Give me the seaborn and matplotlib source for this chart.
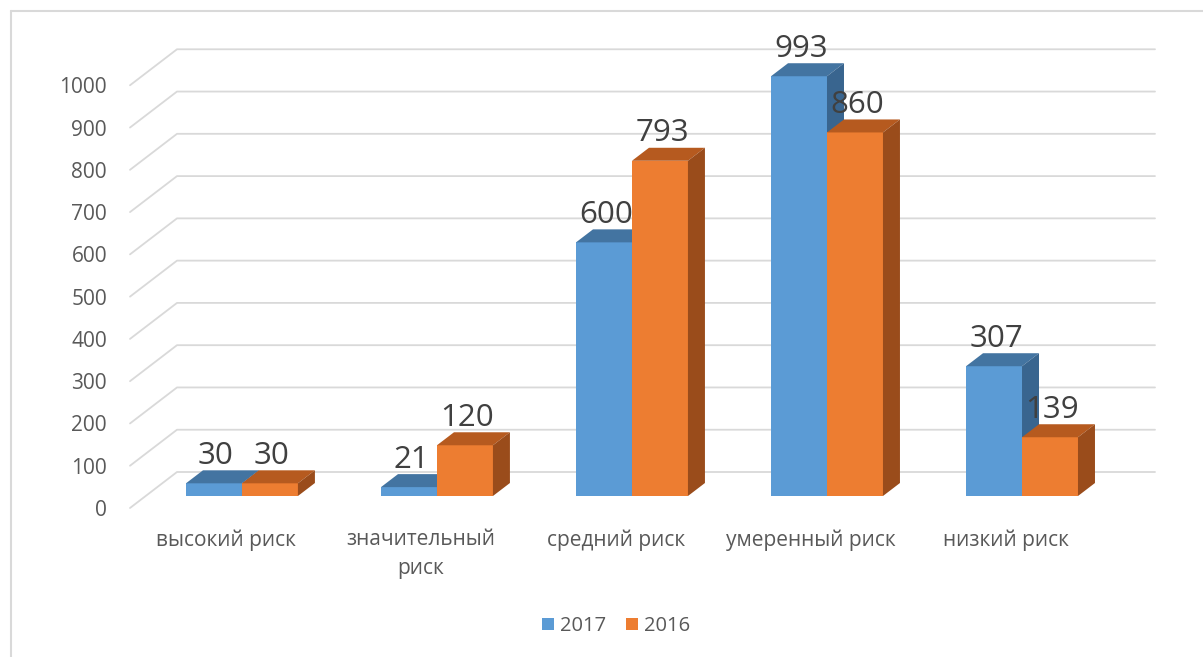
import numpy as np
import pandas as pd
import matplotlib
matplotlib.use("Agg")
import matplotlib.pyplot as plt
import seaborn as sns
from matplotlib.patches import Polygon, Patch
from matplotlib.lines import Line2D
from matplotlib.transforms import ScaledTranslation

# ---- data ----
categories = ["высокий риск", "значительный\nриск", "средний риск", "умеренный риск", "низкий риск"]
series_names = ["2017", "2016"]
values_2017 = [30, 21, 600, 993, 307]
values_2016 = [30, 120, 793, 860, 139]
y_ticks = [0, 100, 200, 300, 400, 500, 600, 700, 800, 900, 1000]

# ---- style ----
front_colors = {"2017": "#5B9BD5", "2016": "#ED7D31"}
top_colors = {"2017": "#4374A1", "2016": "#B65A1F"}
side_colors = {"2017": "#39658F", "2016": "#9A4C1B"}
text_color = "#595959"
grid_color = "#D9D9D9"
FONT = ["Open Sans", "DejaVu Sans"]

sns.set_theme(style="white")
plt.rcParams["font.family"] = FONT

W, H = 1203, 657
dpi = 100
fig = plt.figure(figsize=(W / dpi, H / dpi), dpi=dpi)

# axes = bar-front plane, in pixel geometry
L, R, B, T = 146, 1124, 496, 31
ax = fig.add_axes([L / W, (H - B) / H, (R - L) / W, (B - T) / H])

df = pd.DataFrame({
    "category": categories * 2,
    "value": values_2017 + values_2016,
    "year": [series_names[0]] * len(categories) + [series_names[1]] * len(categories),
})

sns.barplot(data=df, x="category", y="value", hue="year", hue_order=series_names,
            palette=front_colors, width=0.574, ax=ax, legend=False,
            saturation=1, linewidth=0, errorbar=None)

ax.set_xlim(-0.492, 4.523)
ax.set_ylim(0, 1100)
for s in ax.spines.values():
    s.set_visible(False)
ax.grid(False)
ax.set_xlabel("")
ax.set_ylabel("")

# depth offsets in pixels (display coords, y up)
BAR_DX, BAR_DY = 17, 13
FLOOR_DX, FLOOR_DY = -16, -12   # front floor edge (labels) relative to bar front
WALL_DX, WALL_DY = 31, 24       # back wall relative to bar front
WALL_RIGHT_PX = 1155

def shift(x, y, dx, dy):
    d = ax.transData.transform((x, y))
    return tuple(ax.transData.inverted().transform((d[0] + dx, d[1] + dy)))

# gridlines (left wall diagonals + back wall)
x_left = ax.transData.inverted().transform((L, 0))[0]
x_wall_right = ax.transData.inverted().transform((WALL_RIGHT_PX, 0))[0]
for v in y_ticks:
    p_front = shift(x_left, v, FLOOR_DX, FLOOR_DY)
    p_back = shift(x_left, v, WALL_DX, WALL_DY)
    p_right = (x_wall_right, p_back[1])
    ax.add_line(Line2D([p_front[0], p_back[0], p_right[0]],
                       [p_front[1], p_back[1], p_right[1]],
                       color=grid_color, lw=1.3, zorder=0.5, clip_on=False))

# 3D faces of the bars
n = len(categories)
patches = list(ax.patches)
for i, p in enumerate(patches):
    year = series_names[i // n]
    z = 2 if year == "2017" else 3
    p.set_zorder(z)
    p.set_clip_on(False)
    x0 = p.get_x()
    x1 = x0 + p.get_width()
    h = p.get_height()
    # top face
    top = [(x0, h), (x1, h), shift(x1, h, BAR_DX, BAR_DY), shift(x0, h, BAR_DX, BAR_DY)]
    ax.add_patch(Polygon(top, closed=True, facecolor=top_colors[year], edgecolor="none",
                         zorder=z, clip_on=False))
    # side face
    side = [(x1, 0), (x1, h), shift(x1, h, BAR_DX, BAR_DY), shift(x1, 0, BAR_DX, BAR_DY)]
    ax.add_patch(Polygon(side, closed=True, facecolor=side_colors[year], edgecolor="none",
                         zorder=z, clip_on=False))
    # data label
    ax.annotate(f"{int(h)}", xy=(x0 + p.get_width() / 2, h), xytext=(2 * 0.72, 19.5 * 0.72),
                textcoords="offset points", ha="center", va="baseline",
                fontsize=22.5, color="#404040", zorder=10, annotation_clip=False)

# y tick labels at the front floor edge
ax.set_yticks(y_ticks)
ax.set_yticklabels([str(v) for v in y_ticks], fontsize=15, color=text_color)
ax.tick_params(axis="y", length=0, pad=28)
for lab in ax.get_yticklabels():
    lab.set_transform(lab.get_transform() + ScaledTranslation(0, FLOOR_DY / dpi, fig.dpi_scale_trans))

# category labels at the front floor edge
ax.set_xticks(range(n))
ax.set_xticklabels(categories, fontsize=15, color=text_color, linespacing=1.45)
ax.tick_params(axis="x", length=0, pad=24)
for lab in ax.get_xticklabels():
    lab.set_transform(lab.get_transform() + ScaledTranslation(FLOOR_DX / dpi, 0, fig.dpi_scale_trans))

# legend
handles = [Patch(facecolor=front_colors[s], edgecolor="none", label=s) for s in series_names]
fig.legend(handles=handles, loc="center", bbox_to_anchor=(616 / W, 1 - 626 / H), ncol=2,
           frameon=False, fontsize=14.5, handlelength=0.6, handleheight=0.6,
           handletextpad=0.3, columnspacing=1.0, labelcolor=text_color)

# chart border (left and top edges visible)
fig.add_artist(Line2D([11 / W, 11 / W], [0, 1 - 11 / H], transform=fig.transFigure,
                      color="#D9D9D9", lw=1.5))
fig.add_artist(Line2D([11 / W, 1], [1 - 11 / H, 1 - 11 / H], transform=fig.transFigure,
                      color="#D9D9D9", lw=1.5))

fig.savefig("out.png", dpi=dpi)
